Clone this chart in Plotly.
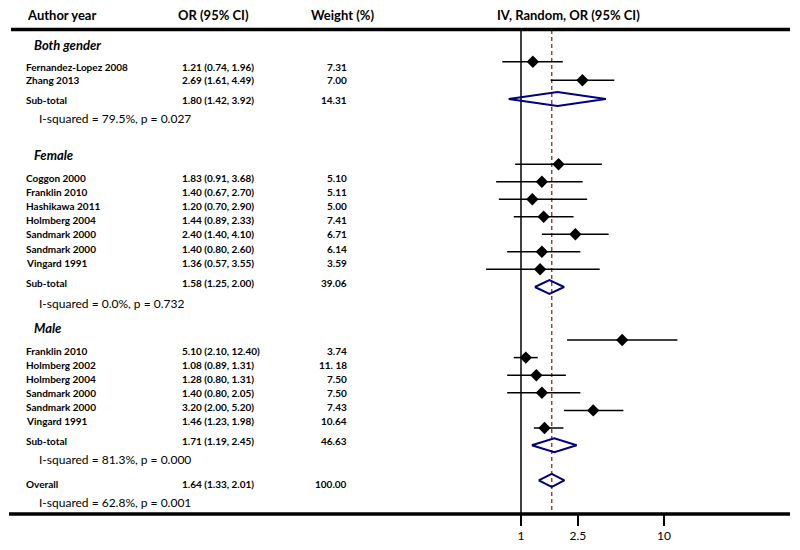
import math
import plotly.graph_objects as go

# ---------------- data ----------------
group_names = ["Both gender", "Female", "Male"]

both_studies = ["Fernandez-Lopez 2008", "Zhang 2013"]
both_or_text = ["1.21 (0.74, 1.96)", "2.69 (1.61, 4.49)"]
both_weight = ["7.31", "7.00"]
both_or = [1.21, 2.69]
both_lo = [0.74, 1.61]
both_hi = [1.96, 4.49]

female_studies = ["Coggon 2000", "Franklin 2010", "Hashikawa 2011", "Holmberg 2004",
                  "Sandmark 2000", "Sandmark 2000", "Vingard 1991"]
female_or_text = ["1.83 (0.91, 3.68)", "1.40 (0.67, 2.70)", "1.20 (0.70, 2.90)",
                  "1.44 (0.89, 2.33)", "2.40 (1.40, 4.10)", "1.40 (0.80, 2.60)",
                  "1.36 (0.57, 3.55)"]
female_weight = ["5.10", "5.11", "5.00", "7.41", "6.71", "6.14", "3.59"]
female_or = [1.83, 1.40, 1.20, 1.44, 2.40, 1.40, 1.36]
female_lo = [0.91, 0.67, 0.70, 0.89, 1.40, 0.80, 0.57]
female_hi = [3.68, 2.70, 2.90, 2.33, 4.10, 2.60, 3.55]

male_studies = ["Franklin 2010", "Holmberg 2002", "Holmberg 2004", "Sandmark 2000",
                "Sandmark 2000", "Vingard 1991"]
male_or_text = ["5.10 (2.10, 12.40)", "1.08 (0.89, 1.31)", "1.28 (0.80, 1.31)",
                "1.40 (0.80, 2.05)", "3.20 (2.00, 5.20)", "1.46 (1.23, 1.98)"]
male_weight = ["3.74", "11. 18", "7.50", "7.50", "7.43", "10.64"]
male_or = [5.10, 1.08, 1.28, 1.40, 3.20, 1.46]
male_lo = [2.10, 0.89, 0.80, 0.80, 2.00, 1.23]
male_hi = [12.40, 1.31, 2.06, 2.60, 5.20, 1.98]   # as drawn in the picture

subtotal_text = ["1.80 (1.42, 3.92)", "1.58 (1.25, 2.00)", "1.71 (1.19, 2.45)"]
subtotal_weight = ["14.31", "39.06", "46.63"]
subtotal_or = [1.80, 1.58, 1.71]
subtotal_lo = [0.82, 1.25, 1.19]   # as drawn in the picture
subtotal_hi = [3.92, 2.00, 2.45]
heterogeneity = ["I-squared = 79.5%, p = 0.027", "I-squared = 0.0%, p = 0.732",
                 "I-squared = 81.3%, p = 0.000"]

overall_text = "1.64 (1.33, 2.01)"
overall_weight = "100.00"
overall_or = 1.64
overall_lo = 1.33
overall_hi = 2.01
overall_heterogeneity = "I-squared = 62.8%, p = 0.001"

tick_values = [1, 2.5, 10]
tick_labels = ["1", "2.5", "10"]

headers = ["Author year", "OR (95% CI)", "Weight (%)", "IV, Random, OR (95% CI)"]

# ---------------- layout constants ----------------
OFF = 8                      # page body margin
W, H = 800 - 2 * OFF, 550 - 2 * OFF
FONT = "Lato"
PX_PER_DECADE = 143.0
X_ONE = 521.0 - OFF          # figure pixel of OR = 1
x_range = [-X_ONE / PX_PER_DECADE, (W - X_ONE) / PX_PER_DECADE]


def py(y):
    """screen pixel row -> figure y value"""
    return y - OFF


def px(x):
    """screen pixel column -> paper fraction"""
    return (x - OFF) / W


# text rows (screen pixel y)
txt_group = [45, 155, 328.3]
txt_first = [66.5, 177.7, 350.7]
txt_step = [13.8, 14.17, 14.0]
txt_sub = [100, 283.3, 441]
txt_het = [118.3, 303.3, 459.3]
txt_overall = 484
txt_overall_het = 502.7

# mark rows (screen pixel y)
mk_first = [61.7, 164.3, 340]
mk_step = [18.6, 17.5, 17.6]
mk_sub = [99, 287, 445.3]
mk_overall = 480.3

X_NAME = 24
X_GROUP = 32
X_HET = 37
X_OR = 180
X_WEIGHT = 349

groups = [
    (both_studies, both_or_text, both_weight, both_or, both_lo, both_hi),
    (female_studies, female_or_text, female_weight, female_or, female_lo, female_hi),
    (male_studies, male_or_text, male_weight, male_or, male_lo, male_hi),
]

fig = go.Figure()
annotations = []


def ann(x, y, text, size=10, bold=False, italic=False, anchor="left", color="black"):
    t = text
    if bold:
        t = "<b>" + t + "</b>"
    if italic:
        t = "<i>" + t + "</i>"
    annotations.append(dict(x=px(x), y=py(y), xref="paper", yref="y", text=t,
                            showarrow=False, xanchor=anchor, yanchor="middle",
                            font=dict(family=FONT, size=size, color=color)))


# headers
ann(25, 15, headers[0], size=13, bold=True)
ann(213, 15, headers[1], size=13, bold=True, anchor="center")
ann(342, 15, headers[2], size=13, bold=True, anchor="center")
ann(568, 15, headers[3], size=13, bold=True, anchor="center")

ci_x, ci_y, pt_x, pt_y = [], [], [], []
for g, (studies, ortext, weight, orv, lo, hi) in enumerate(groups):
    ann(X_GROUP, txt_group[g], group_names[g], size=13, bold=True, italic=True)
    for i, name in enumerate(studies):
        ty = txt_first[g] + i * txt_step[g]
        ann(X_NAME, ty, name, size=10, bold=True)
        ann(X_OR, ty, ortext[i], size=10, bold=True)
        ann(X_WEIGHT, ty, weight[i], size=10, bold=True, anchor="right")
        my = py(mk_first[g] + i * mk_step[g])
        ci_x += [lo[i], hi[i], None]
        ci_y += [my, my, None]
        pt_x.append(orv[i])
        pt_y.append(my)
    ann(X_NAME, txt_sub[g], "Sub-total", size=10, bold=True)
    ann(X_OR, txt_sub[g], subtotal_text[g], size=10, bold=True)
    ann(X_WEIGHT, txt_sub[g], subtotal_weight[g], size=10, bold=True, anchor="right")
    ann(X_HET, txt_het[g], heterogeneity[g], size=12)

ann(X_NAME, txt_overall, "Overall", size=10, bold=True)
ann(X_OR, txt_overall, overall_text, size=10, bold=True)
ann(X_WEIGHT, txt_overall, overall_weight, size=10, bold=True, anchor="right")
ann(X_HET, txt_overall_het, overall_heterogeneity, size=12)

# reference lines
fig.add_trace(go.Scatter(x=[1, 1], y=[py(30), py(513)], mode="lines",
                         line=dict(color="black", width=1.5), hoverinfo="skip"))
fig.add_trace(go.Scatter(x=[overall_or, overall_or], y=[py(30), py(513)], mode="lines",
                         line=dict(color="#9b3f3f", width=1.5, dash="4px,3px"),
                         hoverinfo="skip"))

# confidence intervals
fig.add_trace(go.Scatter(x=ci_x, y=ci_y, mode="lines",
                         line=dict(color="black", width=1.5), hoverinfo="skip"))
fig.add_trace(go.Scatter(x=pt_x, y=pt_y, mode="markers",
                         marker=dict(symbol="diamond", size=9.5, color="black",
                                     line=dict(width=0))))

# summary diamonds
HALF = 7
dx, dy = [], []
for g in range(3):
    y0 = py(mk_sub[g])
    dx += [subtotal_lo[g], subtotal_or[g], subtotal_hi[g], subtotal_or[g], subtotal_lo[g], None]
    dy += [y0, y0 - HALF, y0, y0 + HALF, y0, None]
yo = py(mk_overall)
dx += [overall_lo, overall_or, overall_hi, overall_or, overall_lo]
dy += [yo, yo - HALF + 0.5, yo, yo + HALF - 0.5, yo]
fig.add_trace(go.Scatter(x=dx, y=dy, mode="lines",
                         line=dict(color="#000080", width=2), hoverinfo="skip"))

shapes = [
    dict(type="line", xref="paper", yref="y", x0=px(11), x1=px(790), y0=py(29.5), y1=py(29.5),
         line=dict(color="black", width=3.5)),
    dict(type="line", xref="paper", yref="y", x0=px(9), x1=px(790), y0=py(514), y1=py(514),
         line=dict(color="black", width=3.5)),
]

fig.update_layout(
    width=W, height=H,
    margin=dict(l=0, r=0, t=0, b=0),
    paper_bgcolor="white", plot_bgcolor="white",
    showlegend=False,
    annotations=annotations,
    shapes=shapes,
    xaxis=dict(type="log", range=x_range, domain=[0, 1], anchor="free",
               position=(H - py(514)) / H, showgrid=False, zeroline=False,
               showline=False, ticks="outside", ticklen=11, tickwidth=1.5,
               tickcolor="black", tickvals=tick_values, ticktext=tick_labels,
               tickfont=dict(family=FONT, size=12, color="black"), fixedrange=True),
    yaxis=dict(range=[H, 0], domain=[0, 1], visible=False, fixedrange=True),
)

fig.write_html("out.html")
